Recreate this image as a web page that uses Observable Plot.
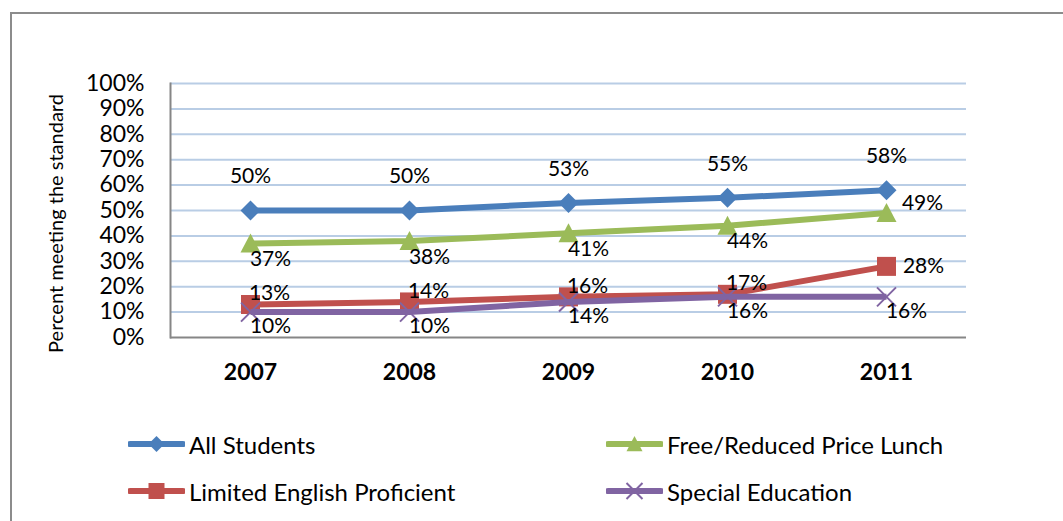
<!DOCTYPE html>
<html><head><meta charset="utf-8">
<script src="https://cdn.jsdelivr.net/npm/d3@7"></script>
<script src="https://cdn.jsdelivr.net/npm/@observablehq/plot@0.6"></script>
<style>
html,body{margin:0;padding:0;background:#fff;width:1063px;height:521px;overflow:hidden;font-family:Lato,sans-serif;color:#000;}
#frame{position:absolute;left:10px;top:12px;width:1100px;height:600px;border:2px solid #8c8c8c;box-sizing:border-box;}
#chart{position:absolute;left:0;top:0;}
#chart svg [aria-label^="x-axis"] text{font-weight:700;}
#legend{position:absolute;left:0;top:0;width:1063px;height:521px;pointer-events:none;}
.item{position:absolute;display:flex;align-items:center;height:30px;font-size:24px;white-space:nowrap;}
.item svg{display:block;margin-right:4px;}
</style></head><body>
<div id="frame"></div>
<div id="chart"></div>
<div id="legend"></div>
<script>
// ---- data ----
const years = ["2007", "2008", "2009", "2010", "2011"];
const seriesNames = ["All Students", "Free/Reduced Price Lunch", "Limited English Proficient", "Special Education"];
const allStudents = [50, 50, 53, 55, 58];
const freeReducedLunch = [37, 38, 41, 44, 49];
const limitedEnglish = [13, 14, 16, 17, 28];
const specialEducation = [10, 10, 14, 16, 16];
const yTicks = [0, 10, 20, 30, 40, 50, 60, 70, 80, 90, 100];
const yTitle = "Percent meeting the standard";

// ---- styles ----
const seriesValues = [allStudents, freeReducedLunch, limitedEnglish, specialEducation];
const colors = ["#4A7EBB", "#9BBB59", "#C0504D", "#8064A2"];

const sym = {
  diamond: {draw(c, size) { const r = Math.sqrt(size / Math.PI); c.moveTo(0, -r); c.lineTo(r, 0); c.lineTo(0, r); c.lineTo(-r, 0); c.closePath(); }},
  triangle: {draw(c, size) { const r = Math.sqrt(size / Math.PI); c.moveTo(0, -r); c.lineTo(r, r * 0.9); c.lineTo(-r, r * 0.9); c.closePath(); }},
  square: {draw(c, size) { const r = Math.sqrt(size / Math.PI); c.rect(-r, -r, 2 * r, 2 * r); }},
  times: {draw(c, size) { const r = Math.sqrt(size / Math.PI); c.moveTo(-r, -r); c.lineTo(r, r); c.moveTo(r, -r); c.lineTo(-r, r); }}
};
const symbols = [sym.diamond, sym.triangle, sym.square, sym.times];
const markerR = [10, 10, 9.5, 9.5];
const filled = [true, true, true, false];

const series = seriesNames.map((name, s) =>
  years.map((year, i) => ({series: name, s, year, value: seriesValues[s][i], last: i === years.length - 1}))
);

function labelOffset(s, last) {
  if (s === 0) return {dx: 0, dy: -34};
  if (s === 1) return last ? {dx: 36, dy: -10} : {dx: 20, dy: 16};
  if (s === 2) return last ? {dx: 37, dy: 0} : {dx: 19, dy: -11};
  return {dx: 20, dy: 14};
}

const marks = [
  Plot.ruleY(yTicks.filter(t => t > 0), {y: d => d, stroke: "#B9CDE5", strokeWidth: 2}),
  Plot.frame({anchor: "left", stroke: "#868686", strokeWidth: 2}),
  Plot.ruleY([0], {stroke: "#868686", strokeWidth: 2}),
  Plot.text([yTitle], {frameAnchor: "left", textAnchor: "middle", rotate: -90, dx: -114, dy: 13, fontSize: 20, fill: "#000"})
];
series.forEach((data, s) => {
  marks.push(Plot.line(data, {x: "year", y: "value", stroke: colors[s], strokeWidth: 6, strokeLinejoin: "round", strokeLinecap: "butt"}));
  marks.push(Plot.dot(data, {x: "year", y: "value", r: markerR[s], symbol: symbols[s],
    fill: filled[s] ? colors[s] : "none", stroke: filled[s] ? "none" : colors[s], strokeWidth: filled[s] ? 0 : 2}));
});
series.forEach((data, s) => {
  [false, true].forEach(isLast => {
    const o = labelOffset(s, isLast);
    marks.push(Plot.text(data.filter(d => d.last === isLast), {x: "year", y: "value", text: d => d.value + "%",
      dx: o.dx, dy: o.dy, fontSize: 21, fill: "#000"}));
  });
});

const chart = Plot.plot({
  width: 1063,
  height: 410,
  marginTop: 83,
  marginBottom: 73,
  marginLeft: 170,
  marginRight: 97,
  style: {fontFamily: "Lato, sans-serif", fontSize: "23px", color: "#000", background: "transparent", overflow: "visible"},
  x: {type: "point", domain: years, padding: 0.5, tickSize: 0, tickPadding: 26, label: null},
  y: {domain: [0, 100], ticks: yTicks, tickFormat: d => d + "%", tickSize: 0, tickPadding: 26, label: null},
  marks
});
document.getElementById("chart").appendChild(chart);

// ---- legend ----
const legendPos = [[128, 444], [606, 444], [128, 491], [606, 491]];
const legend = d3.select("#legend");
seriesNames.forEach((name, s) => {
  const item = legend.append("div").attr("class", "item")
    .style("left", legendPos[s][0] + "px").style("top", (legendPos[s][1] - 15) + "px");
  const svg = item.append("svg").attr("width", 57).attr("height", 30);
  svg.append("line").attr("x1", 2).attr("x2", 55).attr("y1", 15).attr("y2", 15)
    .attr("stroke", colors[s]).attr("stroke-width", 6).attr("stroke-linecap", "round");
  const size = Math.PI * 8 * 8;
  svg.append("path").attr("transform", "translate(28.5,15)")
    .attr("d", d3.symbol(symbols[s], size)())
    .attr("fill", filled[s] ? colors[s] : "none")
    .attr("stroke", filled[s] ? "none" : colors[s]).attr("stroke-width", 2);
  item.append("span").text(name);
});
</script>
</body></html>
